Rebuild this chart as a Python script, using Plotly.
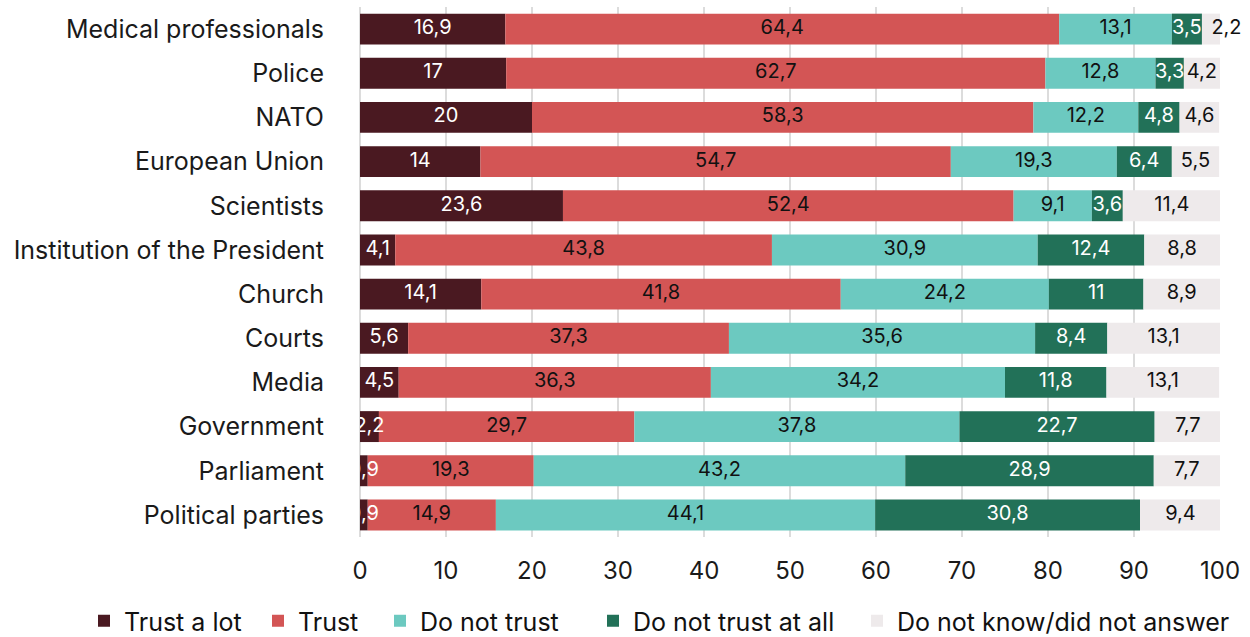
import plotly.graph_objects as go

categories = [
    "Medical professionals", "Police", "NATO", "European Union", "Scientists",
    "Institution of the President", "Church", "Courts", "Media", "Government",
    "Parliament", "Political parties",
]

trust_a_lot = [16.9, 17, 20, 14, 23.6, 4.1, 14.1, 5.6, 4.5, 2.2, 0.9, 0.9]
trust = [64.4, 62.7, 58.3, 54.7, 52.4, 43.8, 41.8, 37.3, 36.3, 29.7, 19.3, 14.9]
do_not_trust = [13.1, 12.8, 12.2, 19.3, 9.1, 30.9, 24.2, 35.6, 34.2, 37.8, 43.2, 44.1]
do_not_trust_at_all = [3.5, 3.3, 4.8, 6.4, 3.6, 12.4, 11, 8.4, 11.8, 22.7, 28.9, 30.8]
do_not_know = [2.2, 4.2, 4.6, 5.5, 11.4, 8.8, 8.9, 13.1, 13.1, 7.7, 7.7, 9.4]

series = [
    ("Trust a lot", trust_a_lot, "#4a1921", "white"),
    ("Trust", trust, "#d35555", "#111111"),
    ("Do not trust", do_not_trust, "#6cc9c0", "#111111"),
    ("Do not trust at all", do_not_trust_at_all, "#227158", "white"),
    ("Do not know/did not answer", do_not_know, "#eeeaeb", "#111111"),
]

# left edge (px) of each legend entry along the bottom row
legend_px = [84, 258, 380, 593, 857]

PLOT_L, PLOT_R = 360, 1220
PLOT_T, PLOT_B = 7, 537
LEGEND_MID = 621


def fmt(v):
    return f"{v:g}".replace(".", ",")


fig = go.Figure()
base = [0.0] * len(categories)
legends = {}
n = len(categories)
for i, (name, vals, color, tcolor) in enumerate(series):
    lg = "legend" if i == 0 else f"legend{i + 1}"
    fig.add_trace(go.Bar(
        y=categories, x=vals, base=base, name=name, orientation="h",
        marker=dict(color=color, line=dict(width=0)),
        width=0.70, legend=lg, hoverinfo="x+y+name",
    ))
    centers = [b + v / 2 for b, v in zip(base, vals)]
    positions = ["middle center"] * n
    if i == len(series) - 1:
        # the thin top-row segment gets its label pushed past the bar end
        positions[0] = "middle right"
    fig.add_trace(go.Scatter(
        x=centers, y=categories, mode="text",
        text=[fmt(v) for v in vals], textposition=positions,
        textfont=dict(color=tcolor, size=20, family="Inter"),
        showlegend=False, hoverinfo="skip", cliponaxis=(i == 0),
    ))
    base = [b + v for b, v in zip(base, vals)]
    legends[lg] = dict(
        orientation="h", xref="paper", yref="paper",
        x=(legend_px[i] - PLOT_L) / (PLOT_R - PLOT_L), xanchor="left",
        y=-(LEGEND_MID - PLOT_B) / (PLOT_B - PLOT_T), yanchor="middle",
        font=dict(size=25, family="Inter", color="#111111"),
        bgcolor="rgba(0,0,0,0)", itemwidth=30,
    )

fig.update_layout(
    barmode="overlay",
    width=1250, height=637,
    margin=dict(l=PLOT_L, r=1250 - PLOT_R, t=PLOT_T, b=637 - PLOT_B,
                autoexpand=False),
    plot_bgcolor="white", paper_bgcolor="white",
    font=dict(family="Inter", size=24, color="#1a1a1a"),
    showlegend=True,
    **legends,
)
fig.update_xaxes(
    range=[0, 100], dtick=10, showgrid=True, gridcolor="#dcdcdc", gridwidth=2,
    zeroline=True, zerolinecolor="#dcdcdc", zerolinewidth=2,
    ticks="", tickfont=dict(size=24), ticklabelstandoff=17,
)
fig.update_yaxes(range=[n - 0.5, -0.5], ticks="", ticklabelstandoff=35,
                 tickfont=dict(size=25))

fig.write_html("out.html")
